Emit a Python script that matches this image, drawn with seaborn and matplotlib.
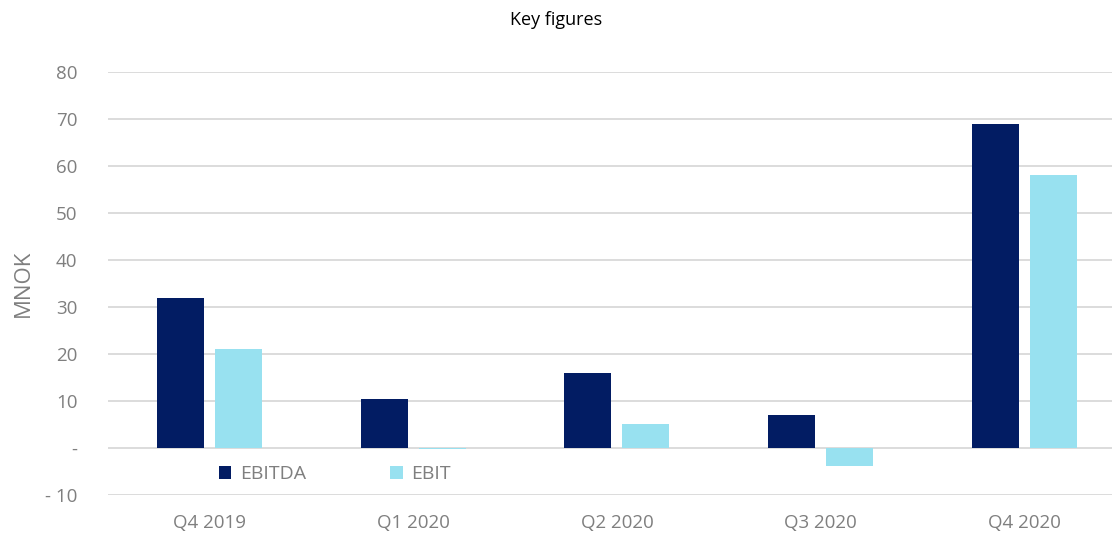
import pandas as pd
import seaborn as sns
import matplotlib.pyplot as plt

quarters = ['Q4 2019', 'Q1 2020', 'Q2 2020', 'Q3 2020', 'Q4 2020']
ebitda = [32, 10.4, 16, 7, 69]
ebit = [21, -0.3, 5, -3.8, 58]
y_ticks = [-10, 0, 10, 20, 30, 40, 50, 60, 70, 80]
y_tick_labels = ['- 10', '-', '10', '20', '30', '40', '50', '60', '70', '80']

df = pd.DataFrame({
    'Quarter': quarters * 2,
    'Series': ['EBITDA'] * len(quarters) + ['EBIT'] * len(quarters),
    'MNOK': ebitda + ebit,
})

sns.set_style('white')
plt.rcParams['font.family'] = ['Open Sans', 'DejaVu Sans']

grey = '#7f7f7f'
fig = plt.figure(figsize=(11.12, 5.33), dpi=100)
ax = fig.add_axes([0.097, 0.0713, 0.903, 0.7937])

sns.barplot(data=df, x='Quarter', y='MNOK', hue='Series', order=quarters,
            palette={'EBITDA': '#021c63', 'EBIT': '#98e1f0'}, saturation=1,
            width=0.57, gap=0.19, linewidth=0, ax=ax, zorder=3)

ax.set_xlim(-0.501, 4.432)
ax.set_ylim(-10, 80)
ax.set_yticks(y_ticks)
ax.set_yticklabels(y_tick_labels)
ax.yaxis.grid(True, color='#d9d9d9', linewidth=1.3, zorder=0)
ax.set_axisbelow(True)
for s in ax.spines.values():
    s.set_visible(False)
ax.tick_params(axis='both', length=0, colors=grey, labelsize=13.5)
ax.tick_params(axis='y', pad=22)
ax.tick_params(axis='x', pad=14)
ax.set_xlabel('')
ax.set_ylabel('MNOK', color=grey, fontsize=16, labelpad=8)

fig.text(0.5, 0.962, 'Key figures', fontsize=13, color='black',
         ha='center', va='center')

ax.legend(loc='center left', bbox_to_anchor=(0.093, 0.05), ncol=2, frameon=False,
          fontsize=14, labelcolor=grey, handlelength=0.65, handleheight=0.65,
          columnspacing=4.3, handletextpad=0.45)

fig.savefig('out.png', dpi=100)
